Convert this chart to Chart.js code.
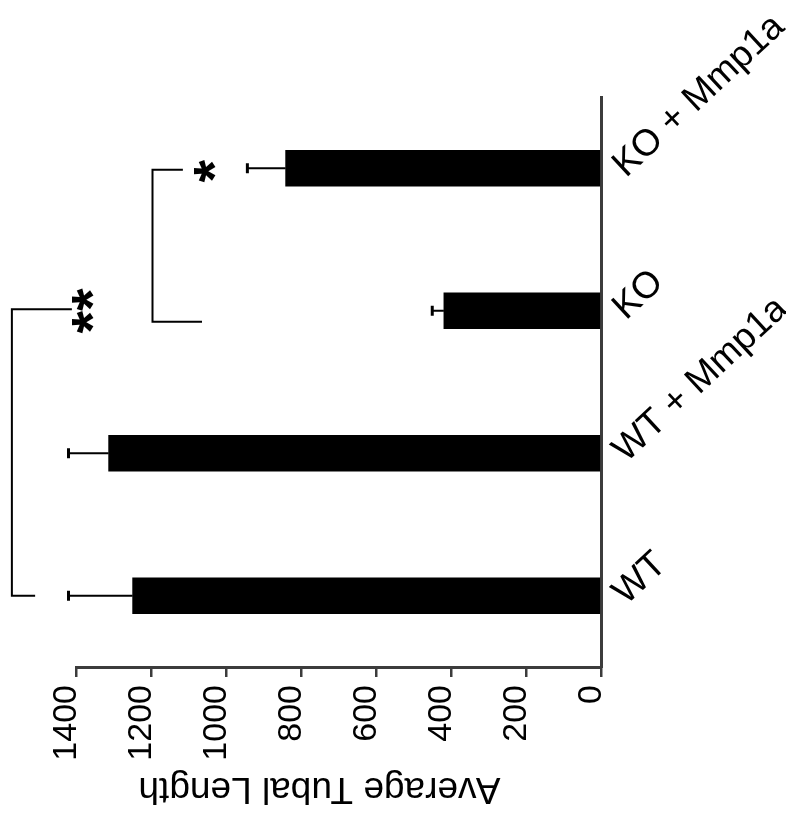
<!DOCTYPE html>
<html><head><meta charset="utf-8">
<script src="https://cdn.jsdelivr.net/npm/chart.js@4.4.1/dist/chart.umd.min.js"></script>
<style>html,body{margin:0;padding:0;background:#fff}canvas{display:block}</style>
</head><body>
<canvas id="c" width="786" height="824"></canvas>
<script>
// ---- data ----
const categories = ['WT', 'WT + Mmp1a', 'KO', 'KO + Mmp1a'];
const meanValues = [1249, 1313, 419, 841];
const errorValues = [171, 107, 31, 102];
const valueTicks = [0, 200, 400, 600, 800, 1000, 1200, 1400];
const axisTitle = 'Average Tubal Length';
// significance brackets (category positions as index, values on value axis)
const bracketFrom = [0, 1.922];
const bracketTo = [2.01, 2.99];
const bracketLevel = [1571, 1196];
const bracketFromEnd = [1509, 1064];
const bracketToEnd = [1411, 1115];
const starLabels = ['**', '*'];
const starValue = [1381, 1055];
const starPos = [2.0, 2.98];

const FONT = "'Liberation Sans', Arial, Helvetica, sans-serif";
const AXIS = '#3c3c3c';

const overlay = {
  id: 'overlay',
  afterDatasetsDraw(chart) {
    const ctx = chart.ctx, xs = chart.scales.x, ys = chart.scales.y, ca = chart.chartArea;
    ctx.save();
    // error bars
    ctx.strokeStyle = '#000';
    for (let i = 0; i < meanValues.length; i++) {
      const y = ys.getPixelForValue(i);
      const x0 = xs.getPixelForValue(meanValues[i]);
      const x1 = xs.getPixelForValue(meanValues[i] + errorValues[i]);
      ctx.lineWidth = 2;
      ctx.beginPath(); ctx.moveTo(x0, y); ctx.lineTo(x1, y); ctx.stroke();
      ctx.lineWidth = 3;
      ctx.beginPath(); ctx.moveTo(x1, y - 5); ctx.lineTo(x1, y + 5); ctx.stroke();
    }
    // brackets
    ctx.lineWidth = 2;
    for (let b = 0; b < bracketLevel.length; b++) {
      const xv = xs.getPixelForValue(bracketLevel[b]);
      const yf = ys.getPixelForValue(bracketFrom[b]);
      const yt = ys.getPixelForValue(bracketTo[b]);
      ctx.beginPath();
      ctx.moveTo(xs.getPixelForValue(bracketFromEnd[b]), yf);
      ctx.lineTo(xv, yf);
      ctx.lineTo(xv, yt);
      ctx.lineTo(xs.getPixelForValue(bracketToEnd[b]), yt);
      ctx.stroke();
    }
    // stars
    ctx.fillStyle = '#000';
    ctx.font = 'bold 58px ' + FONT;
    ctx.textAlign = 'left'; ctx.textBaseline = 'alphabetic';
    for (let s = 0; s < starLabels.length; s++) {
      const m = ctx.measureText(starLabels[s]);
      const icx = (m.actualBoundingBoxRight - m.actualBoundingBoxLeft) / 2;
      const icy = (m.actualBoundingBoxDescent - m.actualBoundingBoxAscent) / 2;
      ctx.save();
      ctx.translate(xs.getPixelForValue(starValue[s]), ys.getPixelForValue(starPos[s]));
      ctx.rotate(-Math.PI / 2);
      ctx.fillText(starLabels[s], -icx, -icy);
      ctx.restore();
    }
    // category labels
    ctx.font = '37px ' + FONT;
    for (let i = 0; i < categories.length; i++) {
      ctx.save();
      ctx.translate(ca.right + 25, ys.getPixelForValue(i) + 10);
      ctx.rotate(-43 * Math.PI / 180);
      ctx.fillText(categories[i], 0, 0);
      ctx.restore();
    }
    // axis title (upside down)
    ctx.font = '37px ' + FONT;
    ctx.save();
    ctx.translate((ca.left + ca.right) / 2 - 19, ca.bottom + 111);
    ctx.rotate(Math.PI);
    ctx.textAlign = 'center';
    ctx.fillText(axisTitle, 0, 0);
    ctx.restore();
    ctx.restore();
  }
};

new Chart(document.getElementById('c'), {
  type: 'bar',
  data: {
    labels: categories,
    datasets: [{ data: meanValues, backgroundColor: '#000', borderWidth: 0, barThickness: 36 }]
  },
  options: {
    indexAxis: 'y',
    responsive: false,
    animation: false,
    devicePixelRatio: 1,
    layout: { padding: { left: 76, top: 97, right: 0, bottom: 0 } },
    plugins: { legend: { display: false }, tooltip: { enabled: false }, title: { display: false } },
    scales: {
      x: {
        type: 'linear', position: 'bottom', reverse: true, min: 0, max: 1400,
        afterBuildTicks(scale) { scale.ticks = valueTicks.map(v => ({ value: v })); },
        afterFit(scale) { scale.height = 157; },
        grid: { drawOnChartArea: false, drawTicks: true, tickLength: 10, color: AXIS, lineWidth: 2.5 },
        border: { display: true, color: AXIS, width: 3 },
        ticks: { minRotation: 90, maxRotation: 90, autoSkip: false, padding: 8, labelOffset: -9,
                 color: '#000', font: { family: FONT, size: 34 },
                 callback: (v) => String(v) }
      },
      y: {
        type: 'category', position: 'right', reverse: true,
        afterFit(scale) { scale.width = 185; },
        grid: { display: false, drawTicks: false },
        border: { display: true, color: AXIS, width: 3 },
        ticks: { display: false }
      }
    }
  },
  plugins: [overlay]
});
</script>
</body></html>
